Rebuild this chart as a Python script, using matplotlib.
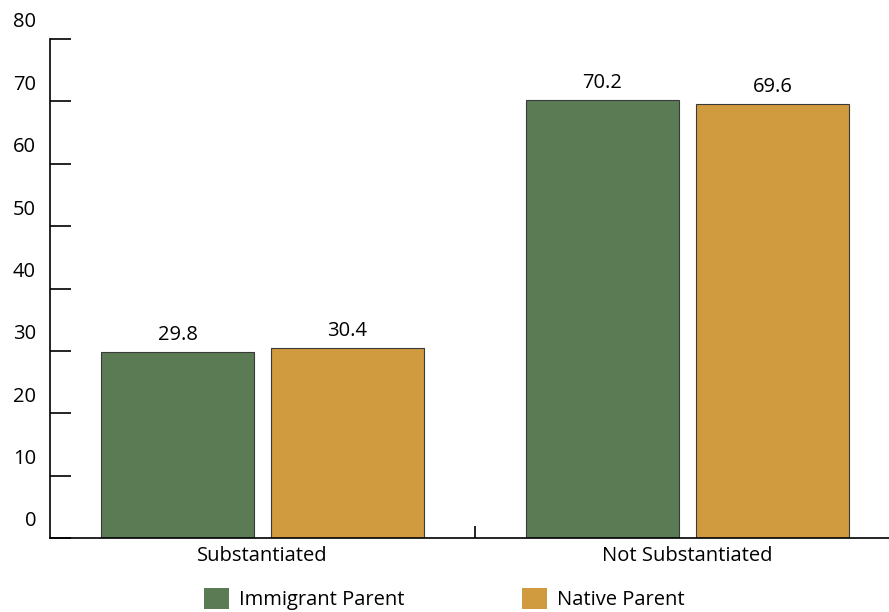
import matplotlib.pyplot as plt
import numpy as np
from matplotlib.transforms import ScaledTranslation
from matplotlib.patches import Patch

plt.rcParams['font.family'] = ['Open Sans', 'DejaVu Sans']

categorias = ['Substantiated', 'Not Substantiated']
series = ['Immigrant Parent', 'Native Parent']
inmigrante = [29.8, 70.2]
nativo = [30.4, 69.6]
colores = ['#5b7b55', '#d09a3e']
yticks = [0, 10, 20, 30, 40, 50, 60, 70, 80]

fig = plt.figure(figsize=(8.89, 6.12), dpi=100)
ax = fig.add_axes([50 / 889, 1 - 538 / 612, 1 - 50 / 889, (538 - 39) / 612])

x = np.arange(len(categorias))
ancho = 0.36
for i, (vals, col) in enumerate(zip([inmigrante, nativo], colores)):
    pos = x + (i - 0.5) * 0.4
    barras = ax.bar(pos, vals, ancho, color=col, edgecolor='#3a3a3a', linewidth=0.8, zorder=2)
    for b, v in zip(barras, vals):
        ax.annotate(f'{v:.1f}', (b.get_x() + b.get_width() / 2, v), xytext=(0, 5),
                    textcoords='offset points', ha='center', va='bottom', fontsize=14.5)

ax.set_xlim(-0.5, 1.474)
ax.set_ylim(0, 80)
ax.spines['top'].set_visible(False)
ax.spines['right'].set_visible(False)
ax.spines['left'].set_linewidth(1.2)
ax.spines['bottom'].set_linewidth(1.2)

ax.set_yticks(yticks)
ax.tick_params(axis='y', direction='in', length=15, width=1.2, pad=10, labelsize=14.5)
for lab in ax.get_yticklabels():
    lab.set_transform(lab.get_transform() + ScaledTranslation(0, 19 / 100, fig.dpi_scale_trans))

ax.set_xticks(x)
ax.set_xticklabels(categorias, fontsize=14.5)
ax.tick_params(axis='x', which='major', length=0, pad=6)
ax.set_xticks([0.5], minor=True)
ax.tick_params(axis='x', which='minor', direction='in', length=8.5, width=1.2)

handles = [Patch(facecolor=c, edgecolor='none') for c in colores]
fig.legend(handles, series, loc='lower left', bbox_to_anchor=(196 / 889, -0.01), ncol=2,
           frameon=False, fontsize=14.5, handlelength=1.25, handleheight=1.25,
           handletextpad=0.48, columnspacing=5.85, borderaxespad=0)

fig.savefig('out.png', dpi=100)
